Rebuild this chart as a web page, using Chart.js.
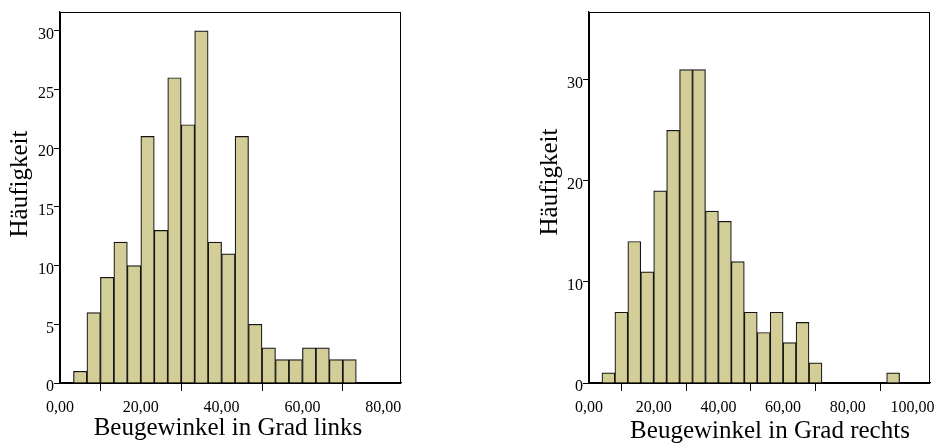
<!DOCTYPE html>
<html>
<head>
<meta charset="utf-8">
<script src="https://cdn.jsdelivr.net/npm/chart.js@4"></script>
<style>
  html, body { margin: 0; padding: 0; background: #fff; }
  .wrap { position: absolute; top: 0; height: 444px; }
  #left { left: 0; width: 470px; }
  #right { left: 529px; width: 414px; }
</style>
</head>
<body>
<div class="wrap" id="left"><canvas id="chartLeft"></canvas></div>
<div class="wrap" id="right"><canvas id="chartRight"></canvas></div>
<script>
// Linkes Histogramm (Klassenbreite 3,33)
const binCentersLeft = [5, 8.33, 11.67, 15, 18.33, 21.67, 25, 28.33, 31.67, 35, 38.33,
  41.67, 45, 48.33, 51.67, 55, 58.33, 61.67, 65, 68.33, 71.67];
const countsLeft = [1, 6, 9, 12, 10, 21, 13, 26, 22, 30, 12, 11, 21, 5, 3, 2, 2, 3, 3, 2, 2];
const xTicksLeft = [0, 20, 40, 60, 80];
const yTicksLeft = [0, 5, 10, 15, 20, 25, 30];

// Rechtes Histogramm (Klassenbreite 4)
const binCentersRight = [6, 10, 14, 18, 22, 26, 30, 34, 38, 42, 46, 50, 54, 58, 62, 66, 70, 94];
const countsRight = [1, 7, 14, 11, 19, 25, 31, 31, 17, 16, 12, 7, 5, 7, 4, 6, 2, 1];
const xTicksRight = [0, 20, 40, 60, 80, 100];
const yTicksRight = [0, 10, 20, 30];

const yTitle = 'Häufigkeit';
const xTitleLeft = 'Beugewinkel in Grad links';
const xTitleRight = 'Beugewinkel in Grad rechts';

const serif = '"Liberation Serif", "Times New Roman", serif';
const fmtTick = (v) => v.toFixed(2).replace('.', ',');

// Rahmen um die Plotfläche und die Achsentitel
const framePlugin = {
  id: 'frame',
  afterDraw(chart, args, opts) {
    const { ctx, chartArea: a } = chart;
    ctx.save();
    ctx.strokeStyle = '#000';
    ctx.lineWidth = 1;
    ctx.strokeRect(a.left + 0.5, a.top + 0.5, a.width - 1, a.height);
    ctx.fillStyle = '#000';
    ctx.font = '25px ' + serif;
    ctx.textAlign = 'center';
    ctx.textBaseline = 'middle';
    ctx.fillText(opts.xTitle, opts.xTitlePos[0], opts.xTitlePos[1]);
    ctx.translate(opts.yTitlePos[0], opts.yTitlePos[1]);
    ctx.rotate(-Math.PI / 2);
    ctx.fillText(opts.yTitle, 0, 0);
    ctx.restore();
  },
};

function makeHistogram(canvasId, cfg) {
  return new Chart(document.getElementById(canvasId), {
    type: 'bar',
    data: {
      datasets: [{
        data: cfg.centers.map((c, i) => ({ x: c, y: cfg.counts[i] })),
        backgroundColor: '#D3CE97',
        borderColor: '#151515',
        borderWidth: 1.2,
        barPercentage: 1,
        categoryPercentage: 1,
      }],
    },
    options: {
      responsive: true,
      maintainAspectRatio: false,
      animation: false,
      devicePixelRatio: 1,
      layout: { padding: { top: 12, right: cfg.padRight, left: 0, bottom: 0 } },
      plugins: {
        legend: { display: false },
        tooltip: { enabled: false },
        frame: {
          xTitle: cfg.xTitle,
          yTitle: yTitle,
          xTitlePos: cfg.xTitlePos,
          yTitlePos: cfg.yTitlePos,
        },
      },
      scales: {
        x: {
          type: 'linear',
          min: 0,
          max: cfg.xMax,
          offset: false,
          afterBuildTicks: (s) => { s.ticks = cfg.xTicks.map((v) => ({ value: v })); },
          afterFit: (s) => { s.height = 61; },
          grid: { drawOnChartArea: false, drawTicks: true, tickLength: 8, color: '#000', tickColor: '#000' },
          border: { display: true, color: '#000', width: 1.2 },
          ticks: {
            color: '#000',
            font: { family: serif, size: 16 },
            padding: 7,
            maxRotation: 0,
            autoSkip: false,
            callback: (v) => fmtTick(v),
          },
        },
        y: {
          min: 0,
          max: cfg.yMax,
          afterBuildTicks: (s) => { s.ticks = cfg.yTicks.map((v) => ({ value: v })); },
          afterFit: (s) => { s.width = 60; },
          grid: { drawOnChartArea: false, drawTicks: true, tickLength: 6, color: '#000', tickColor: '#000' },
          border: { display: true, color: '#000', width: 1.2 },
          ticks: {
            color: '#000',
            font: { family: serif, size: 16 },
            padding: 0,
            labelOffset: 4,
            autoSkip: false,
            callback: (v) => String(v),
          },
        },
      },
    },
    plugins: [framePlugin],
  });
}

makeHistogram('chartLeft', {
  centers: binCentersLeft,
  counts: countsLeft,
  xMax: 84.4,
  yMax: 31.6,
  xTicks: xTicksLeft,
  yTicks: yTicksLeft,
  xTitle: xTitleLeft,
  padRight: 69,
  xTitlePos: [228, 428],
  yTitlePos: [20, 184],
});

makeHistogram('chartRight', {
  centers: binCentersRight,
  counts: countsRight,
  xMax: 105.4,
  yMax: 36.7,
  xTicks: xTicksRight,
  yTicks: yTicksRight,
  xTitle: xTitleRight,
  padRight: 13,
  xTitlePos: [241, 431],
  yTitlePos: [21, 182],
});
</script>
</body>
</html>
